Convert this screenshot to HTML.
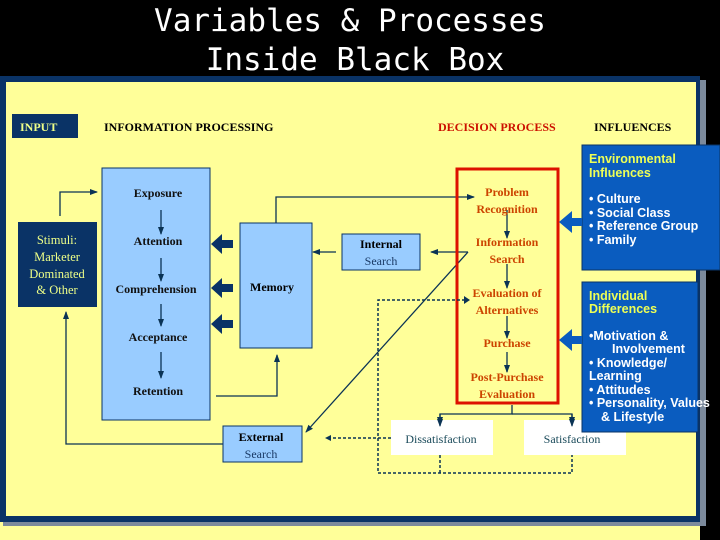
<!DOCTYPE html>
<html><head><meta charset="utf-8"><style>
body{margin:0;width:720px;height:540px;overflow:hidden;background:#000}
svg{display:block}
.s{font-family:"Liberation Serif",serif;font-weight:bold;font-size:12px}
.n{font-weight:normal}
.a{font-family:"Liberation Sans",sans-serif;font-weight:bold;font-size:12.5px}
</style></head><body>
<svg width="720" height="540" viewBox="0 0 720 540">
<defs>
<marker id="ar" markerWidth="8" markerHeight="8" refX="7" refY="4" orient="auto" markerUnits="userSpaceOnUse"><path d="M0,1 L8,4 L0,7z" fill="#0a3355"/></marker>
</defs>
<rect x="0" y="0" width="720" height="540" fill="#000"/>
<rect x="0" y="518" width="700" height="22" fill="#ffff99"/>
<rect x="3" y="80" width="703" height="446" fill="#7c8a9c"/>
<rect x="0" y="76" width="700" height="446" fill="#0a3366"/>
<rect x="6" y="82" width="690" height="434" fill="#ffff99"/>
<text x="350" y="31" fill="#fff" font-family="DejaVu Sans Mono,monospace" font-size="31" text-anchor="middle">Variables &amp; Processes</text>
<text x="355" y="70" fill="#fff" font-family="DejaVu Sans Mono,monospace" font-size="31" text-anchor="middle">Inside Black Box</text>
<rect x="12" y="114" width="66" height="24" fill="#0a3366"/>
<text x="20" y="131" class="s" fill="#eeff88" font-size="13">INPUT</text>
<text x="104" y="131" class="s" font-size="13">INFORMATION PROCESSING</text>
<text x="438" y="131" class="s" font-size="13" fill="#cc1100">DECISION PROCESS</text>
<text x="594" y="131" class="s" font-size="13">INFLUENCES</text>
<!-- stimuli -->
<rect x="18" y="222" width="79" height="85" fill="#0a3366"/>
<g class="s n" fill="#eeff88" text-anchor="middle" style="font-size:12.5px"><text x="57" y="244">Stimuli:</text><text x="57" y="261">Marketer</text><text x="57" y="278">Dominated</text><text x="57" y="294">&amp; Other</text></g>
<!-- big blue -->
<rect x="102" y="168" width="108" height="252" fill="#99ccff" stroke="#0a3366"/>
<g class="s" text-anchor="middle" fill="#111"><text x="158" y="197">Exposure</text><text x="158" y="245">Attention</text><text x="156" y="293">Comprehension</text><text x="158" y="341">Acceptance</text><text x="158" y="395">Retention</text></g>
<g stroke="#0a3355" fill="none" stroke-width="1.3" marker-end="url(#ar)">
<line x1="161" y1="210" x2="161" y2="234"/><line x1="161" y1="258" x2="161" y2="281"/><line x1="161" y1="304" x2="161" y2="326"/><line x1="161" y1="352" x2="161" y2="378"/>
<polyline points="60,216 60,192 97,192"/>
<polyline points="223,444 66,444 66,312"/>
<polyline points="216,396 277,396 277,355"/>
<polyline points="276,223 276,197 474,197"/>
<polyline points="468,252 431,252" />
<line x1="468" y1="252" x2="306" y2="432"/>
<line x1="336" y1="252" x2="313" y2="252"/>
<polyline points="507,210 507,238"/><polyline points="507,264 507,288"/><polyline points="507,316 507,338"/><polyline points="507,352 507,372"/>
<polyline points="512,405 512,414 440,414 440,424"/><polyline points="512,414 572,414 572,424"/>
</g>
<!-- memory -->
<rect x="240" y="223" width="72" height="125" fill="#99ccff" stroke="#0a3366"/>
<text x="272" y="291" class="s" text-anchor="middle">Memory</text>
<g fill="#0a3366"><path d="M211,244 L222,234 L222,240 L233,240 L233,248 L222,248 L222,254z"/><path d="M211,288 L222,278 L222,284 L233,284 L233,292 L222,292 L222,298z"/><path d="M211,324 L222,314 L222,320 L233,320 L233,328 L222,328 L222,334z"/></g>
<rect x="342" y="234" width="78" height="36" fill="#99ccff" stroke="#0a3366"/>
<text x="381" y="248" class="s" text-anchor="middle">Internal</text><text x="381" y="265" class="s n" text-anchor="middle" fill="#1a3a66">Search</text>
<!-- red box -->
<rect x="457" y="169" width="101" height="234" fill="none" stroke="#dd1100" stroke-width="3"/>
<g class="s" text-anchor="middle" fill="#cc4400"><text x="507" y="196">Problem</text><text x="507" y="213">Recognition</text><text x="507" y="246">Information</text><text x="507" y="263">Search</text><text x="507" y="297">Evaluation of</text><text x="507" y="314">Alternatives</text><text x="507" y="347">Purchase</text><text x="507" y="381">Post-Purchase</text><text x="507" y="398">Evaluation</text></g>
<!-- dotted -->
<g stroke="#0a3355" stroke-width="1.5" stroke-dasharray="3,2" fill="none"><polyline points="465,300 378,300 378,473 572,473 572,455"/><line x1="440" y1="455" x2="440" y2="473"/><line x1="391" y1="438" x2="330" y2="438"/></g>
<path d="M464,296 L470,300 L464,304z" fill="#0a3355"/><path d="M325,438 L331,435 L331,441z" fill="#0a3355"/>
<rect x="391" y="420" width="102" height="35" fill="#fff"/><rect x="524" y="420" width="102" height="35" fill="#fff"/>
<g stroke="#0a3355" stroke-width="1.3" marker-end="url(#ar)"><line x1="440" y1="414" x2="440" y2="426"/><line x1="572" y1="414" x2="572" y2="426"/></g>
<text x="441" y="443" class="s n" text-anchor="middle" fill="#1a4a5a">Dissatisfaction</text>
<text x="572" y="443" class="s n" text-anchor="middle" fill="#1a4a5a">Satisfaction</text>
<rect x="223" y="426" width="79" height="36" fill="#99ccff" stroke="#0a3366"/>
<text x="261" y="441" class="s" text-anchor="middle">External</text><text x="261" y="458" class="s n" text-anchor="middle" fill="#1a3a66">Search</text>
<!-- influences -->
<rect x="582" y="145" width="138" height="125" fill="#0a5cbf" stroke="#0a3366"/>
<g class="a"><text x="589" y="163" fill="#eeff55">Environmental</text><text x="589" y="177" fill="#eeff55">Influences</text>
<text x="589" y="203" fill="#fff">• Culture</text><text x="589" y="217" fill="#fff">• Social Class</text><text x="589" y="230" fill="#fff">• Reference Group</text><text x="589" y="244" fill="#fff">• Family</text></g>
<rect x="582" y="282" width="116" height="150" fill="#0a5cbf" stroke="#0a3366"/>
<g class="a"><text x="589" y="300" fill="#eeff55">Individual</text><text x="589" y="313" fill="#eeff55">Differences</text>
<text x="589" y="340" fill="#fff">•Motivation &amp;</text><text x="612" y="353" fill="#fff">Involvement</text><text x="589" y="367" fill="#fff">• Knowledge/</text><text x="589" y="380" fill="#fff">Learning</text><text x="589" y="394" fill="#fff">• Attitudes</text><text x="589" y="407" fill="#fff">• Personality, Values</text><text x="601" y="421" fill="#fff">&amp; Lifestyle</text></g>
<g fill="#0a5cbf"><path d="M559,222 L572,211 L572,218 L582,218 L582,226 L572,226 L572,233z"/><path d="M559,340 L572,329 L572,336 L582,336 L582,344 L572,344 L572,351z"/></g>
</svg>
</body></html>
